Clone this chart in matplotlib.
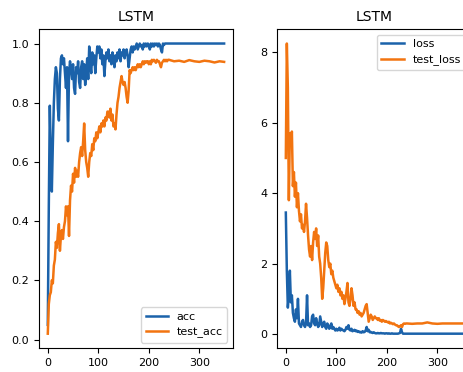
import matplotlib
matplotlib.use("Agg")
import matplotlib.pyplot as plt

#####################################
# Données : courbes d'apprentissage LSTM
#####################################
epochs = list(range(0, 240, 2)) + list(range(240, 350, 10)) + [349]

acc = [0.05, 0.45, 0.79, 0.62, 0.50, 0.66, 0.80, 0.88, 0.92, 0.90,
       0.78, 0.74, 0.88, 0.95, 0.96, 0.93, 0.95, 0.90, 0.85, 0.92,
       0.67, 0.90, 0.94, 0.91, 0.88, 0.93, 0.85, 0.83, 0.92, 0.90,
       0.94, 0.87, 0.85, 0.92, 0.94, 0.88, 0.93, 0.86, 0.90, 0.95,
       0.88, 0.99, 0.93, 0.90, 0.97, 0.93, 0.96, 0.90, 0.95, 0.99,
       0.97, 0.99, 0.95, 0.98, 0.93, 0.96, 0.89, 0.94, 0.97, 0.95,
       0.98, 0.94, 0.96, 0.93, 0.97, 0.95, 0.92, 0.96, 0.94, 0.97,
       0.95, 0.98, 0.94, 0.97, 0.96, 0.98, 0.95, 0.97, 0.98, 0.96,
       0.92, 0.95, 0.98, 0.99, 0.97, 0.99, 0.98, 0.99, 1.00, 0.98,
       0.99, 1.00, 0.99, 0.995, 0.98, 1.00, 0.99, 1.00, 0.99, 1.00,
       0.995, 0.98, 1.00, 0.99, 1.00, 0.99, 1.00, 0.995, 1.00, 0.99,
       1.00, 0.995, 0.98, 0.97, 1.00, 0.995, 1.00, 1.00, 1.00, 1.00,
       1.00, 1.00, 1.00, 1.00, 1.00, 1.00, 1.00, 1.00, 1.00, 1.00, 1.00, 1.00]

test_acc = [0.02, 0.12, 0.15, 0.16, 0.20, 0.19, 0.25, 0.27, 0.33, 0.31,
            0.36, 0.39, 0.30, 0.35, 0.37, 0.34, 0.38, 0.40, 0.45, 0.42,
            0.45, 0.35, 0.47, 0.52, 0.50, 0.56, 0.53, 0.58, 0.55, 0.57,
            0.55, 0.60, 0.63, 0.65, 0.62, 0.67, 0.73, 0.64, 0.60, 0.58,
            0.55, 0.60, 0.63, 0.62, 0.66, 0.64, 0.68, 0.67, 0.70, 0.68,
            0.70, 0.72, 0.70, 0.73, 0.72, 0.74, 0.72, 0.75, 0.74, 0.77,
            0.77, 0.75, 0.78, 0.74, 0.76, 0.72, 0.73, 0.71, 0.76, 0.80,
            0.82, 0.85, 0.87, 0.89, 0.87, 0.86, 0.87, 0.85, 0.82, 0.80,
            0.84, 0.91, 0.90, 0.91, 0.92, 0.91, 0.92, 0.91, 0.92, 0.93,
            0.92, 0.93, 0.92, 0.93, 0.94, 0.93, 0.94, 0.935, 0.94, 0.94,
            0.93, 0.94, 0.93, 0.945, 0.94, 0.945, 0.94, 0.935, 0.945, 0.94,
            0.94, 0.93, 0.92, 0.935, 0.94, 0.945, 0.94, 0.945, 0.94, 0.945,
            0.945, 0.94, 0.942, 0.938, 0.944, 0.94, 0.938, 0.942, 0.94, 0.936, 0.94, 0.938]

loss = [3.45, 1.80, 0.75, 1.10, 1.80, 0.90, 1.10, 0.60, 0.45, 0.35,
        0.70, 0.45, 1.00, 0.30, 0.25, 0.20, 0.35, 0.40, 0.25, 0.20,
        0.30, 1.10, 0.25, 0.30, 0.20, 0.25, 0.50, 0.55, 0.30, 0.25,
        0.45, 0.30, 0.20, 0.25, 0.50, 0.35, 0.20, 0.30, 0.35, 0.20,
        0.15, 0.30, 0.25, 0.15, 0.20, 0.30, 0.15, 0.20, 0.15, 0.10,
        0.15, 0.10, 0.12, 0.18, 0.10, 0.15, 0.12, 0.10, 0.08, 0.12,
        0.20, 0.15, 0.25, 0.12, 0.10, 0.15, 0.08, 0.10, 0.12, 0.08,
        0.10, 0.06, 0.08, 0.05, 0.06, 0.04, 0.08, 0.05, 0.06, 0.10,
        0.20, 0.08, 0.12, 0.05, 0.06, 0.04, 0.03, 0.05, 0.03, 0.02,
        0.02, 0.03, 0.02, 0.02, 0.03, 0.02, 0.02, 0.02, 0.01, 0.02,
        0.02, 0.01, 0.02, 0.01, 0.01, 0.02, 0.01, 0.01, 0.01, 0.01,
        0.01, 0.01, 0.02, 0.03, 0.15, 0.05, 0.01, 0.01, 0.01, 0.01,
        0.01, 0.01, 0.01, 0.01, 0.01, 0.01, 0.01, 0.01, 0.01, 0.01, 0.01, 0.01]

test_loss = [5.00, 8.25, 7.00, 3.80, 5.70, 5.40, 5.75, 4.20, 4.60, 3.90,
             4.30, 3.60, 4.00, 3.50, 3.20, 3.40, 3.00, 3.10, 2.90, 3.20,
             3.70, 3.30, 2.80, 2.40, 2.20, 2.50, 2.10, 2.60, 2.90, 2.70,
             3.00, 2.50, 2.80, 2.20, 2.00, 1.60, 1.00, 1.30, 1.80, 2.30,
             2.60, 2.50, 2.10, 1.90, 2.00, 1.70, 1.80, 1.60, 1.50, 1.40,
             1.30, 1.40, 1.20, 1.30, 1.10, 1.20, 1.00, 1.10, 0.85, 1.00,
             1.20, 1.45, 0.90, 0.80, 1.00, 1.30, 1.10, 0.80, 0.90, 0.70,
             0.70, 0.60, 0.65, 0.55, 0.60, 0.50, 0.55, 0.60, 0.70, 0.80,
             0.85, 0.60, 0.35, 0.45, 0.55, 0.50, 0.40, 0.45, 0.50, 0.45,
             0.45, 0.40, 0.45, 0.38, 0.40, 0.35, 0.40, 0.38, 0.35, 0.37,
             0.35, 0.33, 0.35, 0.30, 0.32, 0.30, 0.28, 0.30, 0.27, 0.25,
             0.25, 0.22, 0.20, 0.22, 0.25, 0.20, 0.28, 0.30, 0.29, 0.30,
             0.30, 0.29, 0.30, 0.30, 0.33, 0.30, 0.29, 0.30, 0.30, 0.30, 0.30, 0.30]

blue = '#1b62aa'
orange = '#f27410'

#####################################
# Graphique
#####################################
fig = plt.figure(figsize=(4.64, 3.72), dpi=100)
ax1 = fig.add_axes([0.084, 0.064, 0.418, 0.858])
ax2 = fig.add_axes([0.597, 0.064, 0.418, 0.858])

ax1.plot(epochs, acc, color=blue, lw=1.8, label='acc')
ax1.plot(epochs, test_acc, color=orange, lw=1.8, label='test_acc')
ax1.set_title('LSTM', fontsize=10)
ax1.set_xticks([0, 100, 200, 300])
ax1.set_yticks([0.0, 0.2, 0.4, 0.6, 0.8, 1.0])
ax1.legend(loc='lower right', fontsize=8)

ax2.plot(epochs, loss, color=blue, lw=1.8, label='loss')
ax2.plot(epochs, test_loss, color=orange, lw=1.8, label='test_loss')
ax2.set_title('LSTM', fontsize=10)
ax2.set_xticks([0, 100, 200, 300])
ax2.set_yticks([0, 2, 4, 6, 8])
ax2.legend(loc='upper right', fontsize=8)

for ax in (ax1, ax2):
    ax.tick_params(labelsize=8)

fig.savefig('out.png', dpi=100)
